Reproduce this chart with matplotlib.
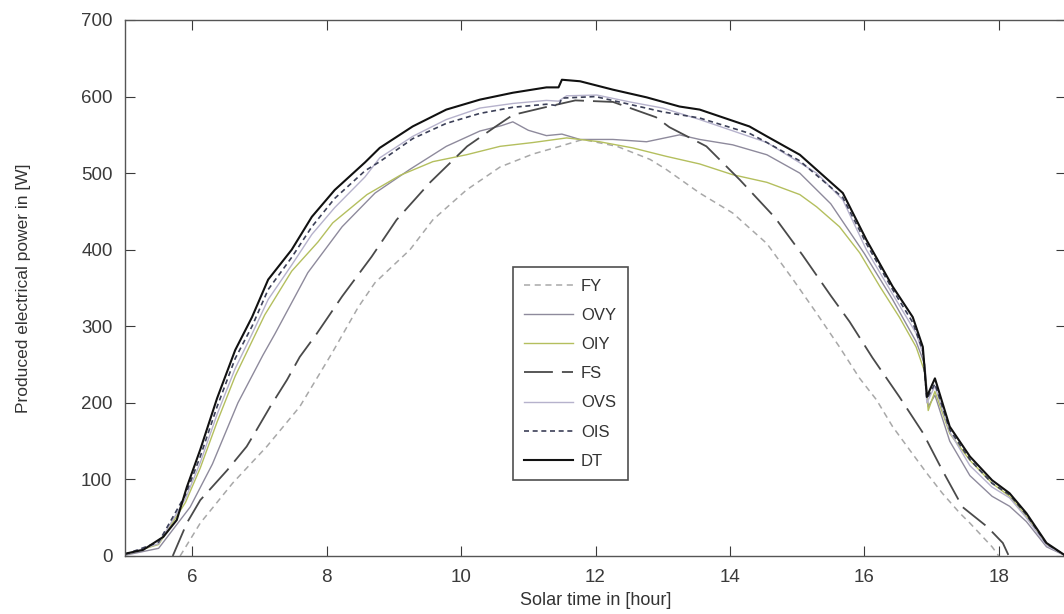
import matplotlib
matplotlib.use("Agg")
import matplotlib.pyplot as plt

plt.rcParams['font.family'] = ['Liberation Sans', 'DejaVu Sans']

# hours / power [W], one pair of lists per series
fy_t = [5.82, 6.12, 6.6, 7.11, 7.6, 8.08, 8.47, 8.72, 9.24, 9.58, 10.08, 10.58, 11.07,
        11.47, 11.81, 12.32, 12.81, 13.05, 13.55, 14.04, 14.55, 14.94, 15.29, 15.63,
        15.93, 16.18, 16.42, 16.67, 16.93, 17.16, 17.42, 17.57, 17.9, 18.0]
fy_p = [0, 43, 95, 143, 195, 265, 325, 357, 400, 439, 478, 508, 525,
        535, 544, 535, 518, 505, 474, 448, 408, 361, 317, 273,
        232, 204, 169, 139, 108, 82, 56, 43, 12, 0]

ovy_t = [5.0, 5.5, 5.97, 6.3, 6.68, 7.05, 7.23, 7.72, 8.23, 8.72, 9.24, 9.78, 10.28,
         10.6, 10.77, 11.0, 11.27, 11.5, 11.77, 12.26, 12.76, 13.25, 13.55, 14.04,
         14.55, 15.04, 15.5, 16.0, 16.42, 16.77, 16.9, 16.95, 17.05, 17.27, 17.57,
         17.9, 18.16, 18.41, 18.71, 19.0]
ovy_p = [1, 10, 64, 120, 200, 262, 290, 370, 430, 474, 505, 535, 555,
         562, 567, 556, 549, 551, 544, 544, 541, 550, 544, 537,
         524, 500, 460, 395, 335, 280, 250, 195, 210, 150, 105,
         78, 65, 45, 12, 0]

oiy_t = [5.0, 5.5, 5.9, 6.12, 6.37, 6.64, 7.08, 7.48, 7.87, 8.09, 8.6, 9.09, 9.58,
         10.08, 10.58, 11.07, 11.57, 12.06, 12.55, 13.05, 13.55, 14.04, 14.55, 15.04,
         15.29, 15.63, 15.93, 16.23, 16.52, 16.77, 16.9, 16.95, 17.05, 17.27, 17.57,
         17.9, 18.16, 18.41, 18.71, 19.0]
oiy_p = [2, 15, 70, 115, 175, 235, 315, 372, 410, 435, 472, 497, 515,
         524, 535, 540, 546, 541, 533, 522, 512, 498, 488, 472,
         456, 430, 396, 352, 312, 273, 240, 190, 215, 160, 125,
         95, 78, 52, 15, 0]

fs_t = [5.71, 5.92, 6.12, 6.52, 6.81, 6.96, 7.16, 7.41, 7.6, 7.85, 8.23, 8.67, 9.04,
        9.54, 10.09, 10.5, 10.77, 11.2, 11.7, 12.26, 12.9, 13.1, 13.65, 14.15, 14.67,
        15.08, 15.5, 15.78, 16.12, 16.52, 16.87, 17.16, 17.46, 17.83, 18.06, 18.15]
fs_p = [0, 43, 73, 112, 143, 165, 195, 230, 260, 290, 339, 391, 439,
        488, 535, 560, 576, 585, 595, 593, 573, 560, 535, 491, 442,
        393, 340, 306, 259, 208, 161, 112, 64, 38, 17, 0]

ovs_t = [5.0, 5.5, 5.9, 6.12, 6.37, 6.64, 6.89, 7.13, 7.48, 7.78, 8.12, 8.57, 8.79,
         9.28, 9.78, 10.28, 10.77, 11.27, 11.45, 11.57, 12.02, 12.51, 13.0, 13.55,
         14.55, 15.29, 15.68, 16.03, 16.42, 16.77, 16.88, 16.93, 17.05, 17.27, 17.57,
         17.9, 18.16, 18.41, 18.71, 19.0]
ovs_p = [2, 16, 75, 122, 185, 245, 290, 335, 380, 420, 455, 495, 520,
         548, 570, 585, 591, 595, 594, 601, 602, 593, 585, 570,
         540, 500, 465, 400, 342, 291, 262, 200, 222, 162, 118,
         90, 76, 50, 14, 0]

ois_t = [5.0, 5.5, 5.9, 6.12, 6.37, 6.64, 6.89, 7.13, 7.48, 7.78, 8.12, 8.57, 8.79,
         9.28, 9.78, 10.28, 10.77, 11.27, 11.45, 11.5, 12.0, 12.5, 13.0, 13.55, 14.29,
         14.55, 15.04, 15.68, 16.03, 16.42, 16.72, 16.87, 16.93, 17.05, 17.27, 17.57,
         17.9, 18.16, 18.41, 18.71, 19.0]
ois_p = [2, 18, 80, 130, 195, 258, 300, 348, 390, 430, 467, 503, 515,
         545, 565, 578, 586, 590, 588, 598, 600, 590, 580, 572, 552,
         540, 516, 468, 408, 348, 305, 268, 205, 225, 165, 126,
         95, 80, 54, 16, 0]

dt_t = [5.0, 5.27, 5.57, 5.77, 5.92, 6.12, 6.37, 6.64, 6.89, 7.13, 7.48, 7.78, 8.12,
        8.57, 8.79, 9.28, 9.78, 10.28, 10.77, 11.27, 11.45, 11.5, 11.77, 12.26, 12.76,
        13.25, 13.55, 14.29, 14.55, 15.04, 15.68, 16.03, 16.42, 16.72, 16.87, 16.93,
        17.05, 17.27, 17.57, 17.9, 18.16, 18.41, 18.71, 19.0]
dt_p = [3, 8, 25, 47, 90, 139, 206, 269, 312, 361, 400, 443, 478,
        514, 533, 561, 583, 596, 605, 612, 612, 622, 620, 609, 599,
        587, 583, 561, 548, 524, 474, 413, 352, 312, 273, 208,
        232, 169, 130, 99, 82, 56, 17, 0]

labels = ['FY', 'OVY', 'OIY', 'FS', 'OVS', 'OIS', 'DT']

fig = plt.figure(figsize=(10.64, 6.14), dpi=100)
ax = fig.add_axes([125 / 1064, 58 / 614, 941 / 1064, 536 / 614])

ax.plot(fy_t, fy_p, color='#a8a8a8', lw=1.1, dashes=(4, 3), label=labels[0])
ax.plot(ovy_t, ovy_p, color='#8e8a9c', lw=1.0, label=labels[1])
ax.plot(oiy_t, oiy_p, color='#b4bf5e', lw=1.0, label=labels[2])
ax.plot(fs_t, fs_p, color='#4a4a4a', lw=1.3, dashes=(16, 5), label=labels[3])
ax.plot(ovs_t, ovs_p, color='#b6b2cc', lw=1.0, label=labels[4])
ax.plot(ois_t, ois_p, color='#3c4058', lw=1.2, dashes=(3, 2.2), label=labels[5])
ax.plot(dt_t, dt_p, color='#111111', lw=1.5, label=labels[6])

ax.set_xlim(5, 19)
ax.set_ylim(0, 700)
ax.set_xticks(range(6, 19, 2))
ax.set_yticks(range(0, 701, 100))
ax.tick_params(direction='in', length=7, top=True, right=True,
               labelsize=13.5, colors='#3a3a3a', pad=9)
for s in ax.spines.values():
    s.set_color('#555555')
    s.set_linewidth(1.0)

ax.set_xlabel('Solar time in [hour]', fontsize=13, color='#333333', labelpad=5)
ax.set_ylabel('Produced electrical power in [W]', fontsize=12.5, color='#333333',
              labelpad=36)

leg = ax.legend(loc='upper left', bbox_to_anchor=(0.412, 0.539), fontsize=12,
                frameon=True, fancybox=False, handlelength=2.9, labelspacing=0.85,
                borderpad=0.7, handletextpad=0.5, borderaxespad=0)
leg.get_frame().set_edgecolor('#222222')
leg.get_frame().set_linewidth(1.2)
for t in leg.get_texts():
    t.set_color('#333333')

fig.savefig('out.png', dpi=100)
